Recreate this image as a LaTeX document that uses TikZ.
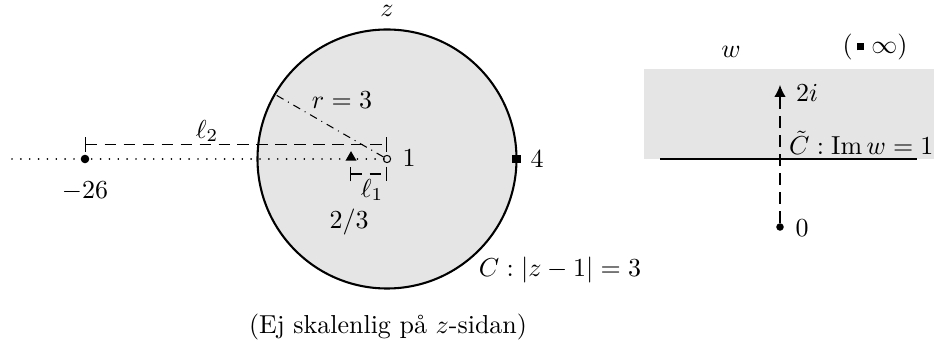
\documentclass[tikz,border=0pt]{standalone}
\usepackage{amsmath}
\usetikzlibrary{arrows.meta,shapes.geometric}
\begin{document}
\begin{tikzpicture}[x=0.385pt,y=-0.385pt,
  dotline/.style={line cap=round,dash pattern=on 0.01pt off 3.4pt,line width=0.7pt},
  dashline/.style={dash pattern=on 4.5pt off 2.8pt},
  dimline/.style={dashline,{Bar[width=5.6pt]}-{Bar[width=5.6pt]}},
  fdot/.style={circle,fill,inner sep=0pt,minimum size=3.3pt},
  odot/.style={circle,draw,inner sep=0pt,minimum size=2.8pt},
  tri/.style={regular polygon,regular polygon sides=3,fill,inner sep=0pt,minimum size=4.9pt},
  sq/.style={rectangle,fill,inner sep=0pt,minimum size=3.1pt},
  lbl/.style={inner sep=1pt}]
\useasboundingbox (0,0) rectangle (934,341);
% right panel background
\fill[gray!20] (644,69) rectangle (934,159);
% z-plane disc
\draw[thick,fill=gray!20] (387,159) circle[radius=129.5];
\coordinate (west) at (12,159);
\draw[dotline] (west) -- (387,159);
\node[odot] (one) at (387,159) {};
\node[fdot] (m26) at (85,159) {};
\node[tri] (tt) at (351,157.5) {};
\node[sq] (four) at (516.5,159) {};
\coordinate (rim) at (274.8,94.3);
\draw[dash dot] (one) -- (rim);
% dimension lines
\coordinate (l2a) at (85,144.5);
\coordinate (l2b) at (387,144.5);
\draw[dimline] (l2a) -- (l2b);
\coordinate (l1a) at (350,174);
\coordinate (l1b) at (387,174);
\draw[dimline] (l1a) -- (l1b);
% labels z-plane
\node[inner sep=0pt] (lz) at (387,11) {$z$};
\node[lbl] (lr) at (342,100) {$r=3$};
\node[lbl] (lone) at (409,158) {$1$};
\node[lbl] (lfour) at (537,159.5) {$4$};
\node[lbl] (lm26) at (85,191) {$-26$};
\node[lbl] (ltt) at (349,222) {$2/3$};
\node[lbl] (lell2) at (207,131) {$\ell_2$};
\node[lbl] (lell1) at (372,190) {$\ell_1$};
\node[lbl] (lC) at (560,270) {$C:|z-1|=3$};
\node[lbl] (note) at (388,327) {(Ej skalenlig på $z$-sidan)};
% w-plane
\node[lbl] (lw) at (731,52) {$w$};
\node[lbl] (linf) at (875,47) {$(\,\rule[1.2pt]{2.8pt}{2.8pt}\;\infty)$};
\node[fdot,minimum size=2.9pt] (w0) at (780,227) {};
\coordinate (w2i) at (780,85);
\draw[dashline,-{Latex[length=4.6pt,width=4.4pt]}] (w0) -- (w2i);
\node[lbl] (l2i) at (807,93) {$2i$};
\node[lbl] (l0) at (802,228) {$0$};
\coordinate (ha) at (660,159);
\coordinate (hb) at (917,159);
\draw[thick] (ha) -- (hb);
\node[lbl,anchor=west] (lCt) at (786,143) {$\tilde C:\operatorname{Im} w=1$};
\end{tikzpicture}
\end{document}
